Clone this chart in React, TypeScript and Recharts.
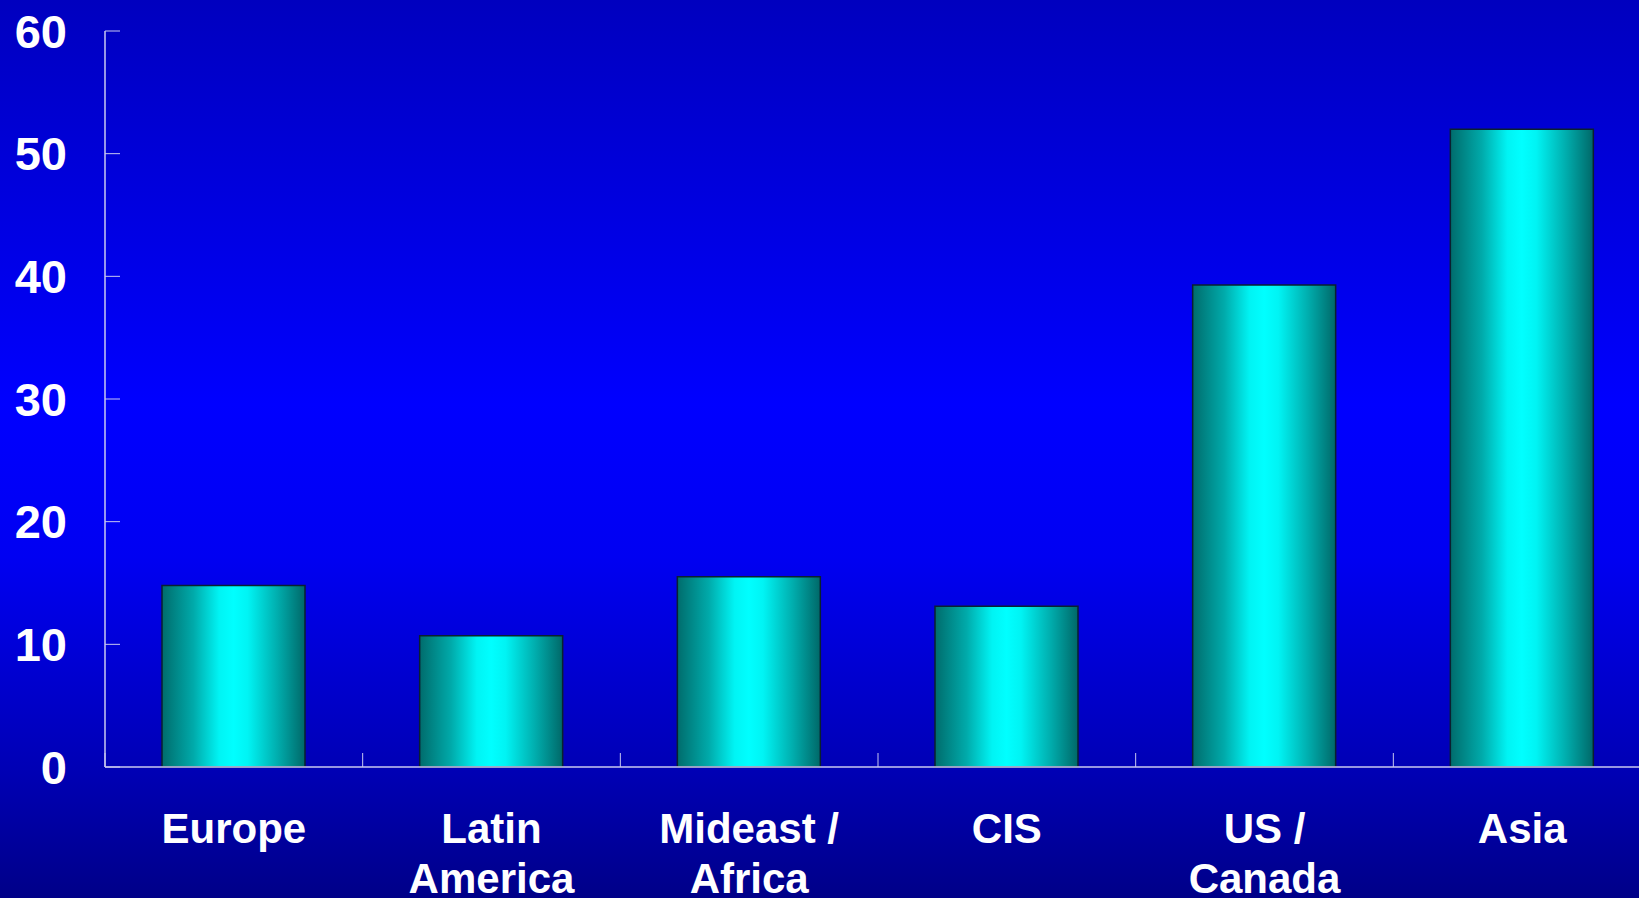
import React from "react";
import { BarChart, Bar, XAxis, YAxis } from "recharts";

const regions = ["Europe", "Latin\nAmerica", "Mideast /\nAfrica", "CIS", "US /\nCanada", "Asia"];
const values = [14.8, 10.7, 15.5, 13.1, 39.3, 52.0];
const yTicks = [0, 10, 20, 30, 40, 50, 60];

const chartData = regions.map((region, i) => ({ region, value: values[i] }));

const FONT = "'Liberation Sans', Arial, sans-serif";
const AXIS_COLOR = "#c8c8f0";

// y tick: short inward line plus big bold number
const YTick = ({ x, y, payload }: any) => (
  <g>
    <line x1={x} x2={x + 15} y1={y} y2={y} stroke={AXIS_COLOR} strokeWidth={1} />
    <text
      x={x - 38}
      y={y}
      textAnchor="end"
      dominantBaseline="central"
      fill="#ffffff"
      fontFamily={FONT}
      fontWeight="bold"
      fontSize={47}
    >
      {payload.value}
    </text>
  </g>
);

// x tick: boundary tick line and multi-line category label
const XTick = ({ x, y, payload }: any) => {
  const half = payload.offset || 0;
  const lines = String(payload.value).split("\n");
  return (
    <g>
      <line x1={x - half} x2={x - half} y1={y} y2={y - 14} stroke={AXIS_COLOR} strokeWidth={1} />
      <text
        x={x}
        y={y + 76}
        textAnchor="middle"
        fill="#ffffff"
        fontFamily={FONT}
        fontWeight="bold"
        fontSize={42}
      >
        {lines.map((line, i) => (
          <tspan key={i} x={x} dy={i === 0 ? 0 : 50}>
            {line}
          </tspan>
        ))}
      </text>
    </g>
  );
};

export default function App() {
  return (
    <div
      style={{
        position: "absolute",
        left: 0,
        top: 0,
        width: 1639,
        height: 898,
        overflow: "hidden",
        background:
          "linear-gradient(to bottom, #0000bf 0%, #0000ff 45%, #0000f2 62%, #0000b4 86%, #000088 100%)",
      }}
    >
      <BarChart
        width={1652}
        height={898}
        data={chartData}
        margin={{ top: 31, right: 1, left: 0, bottom: 0 }}
        barSize={143}
      >
        <defs>
          <linearGradient id="cylinder" x1="0" y1="0" x2="1" y2="0">
            <stop offset="0%" stopColor="#006c6c" />
            <stop offset="22%" stopColor="#00aaaa" />
            <stop offset="40%" stopColor="#00f4f4" />
            <stop offset="50%" stopColor="#00ffff" />
            <stop offset="60%" stopColor="#00f4f4" />
            <stop offset="80%" stopColor="#00b0b0" />
            <stop offset="100%" stopColor="#006868" />
          </linearGradient>
        </defs>
        <XAxis
          dataKey="region"
          height={131}
          interval={0}
          tickSize={0}
          tickMargin={0}
          tick={<XTick />}
          axisLine={{ stroke: AXIS_COLOR, strokeWidth: 1.5 }}
          tickLine={false}
        />
        <YAxis
          width={105}
          domain={[0, 60]}
          ticks={yTicks}
          interval={0}
          tickSize={0}
          tickMargin={0}
          tick={<YTick />}
          axisLine={{ stroke: AXIS_COLOR, strokeWidth: 1.5 }}
          tickLine={false}
        />
        <Bar
          dataKey="value"
          fill="url(#cylinder)"
          stroke="#0a2030"
          strokeWidth={1.5}
          isAnimationActive={false}
        />
      </BarChart>
    </div>
  );
}
